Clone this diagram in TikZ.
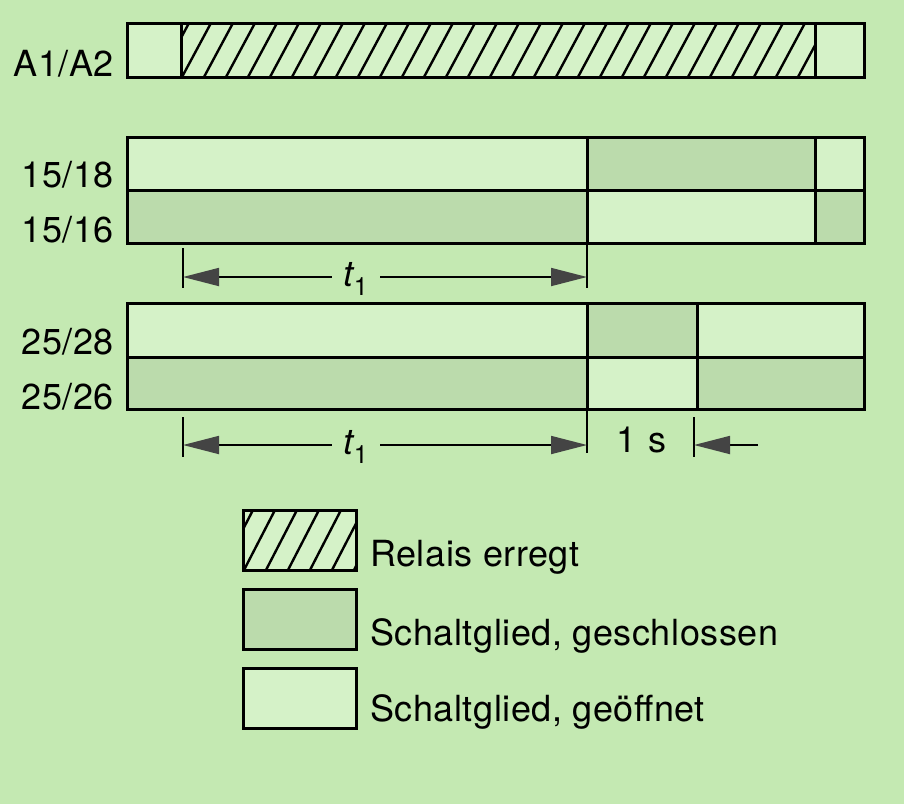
\documentclass[tikz,border=0pt]{standalone}
\usepackage{fontspec}
\setmainfont{TeX Gyre Heros}[LetterSpace=1.5]
\usepackage{tikz}
\usetikzlibrary{arrows.meta}
\definecolor{bgGreen}{RGB}{196,233,178}
\definecolor{openGreen}{RGB}{213,242,200}
\definecolor{closedGreen}{RGB}{187,219,172}
\definecolor{headGray}{RGB}{68,68,68}
\newcommand*{\xMin}{127}
\newcommand*{\xMax}{864}
\newcommand*{\xOn}{181}
\newcommand*{\xOff}{815}
\newcommand*{\xSw}{587}
\newcommand*{\xOne}{697}
\newcommand*{\lblfont}{\fontsize{36}{40}\selectfont}
\tikzset{
	bar/.style={line width=3pt,draw=black,line join=miter},
	hatchline/.style={line width=2.4pt,black},
	tickline/.style={line width=1.8pt,black},
	dimarrow/.style={line width=1.8pt,black,-{Triangle[length=36pt,width=18pt,color=headGray]}},
	lbl/.style={font=\lblfont,inner sep=0pt}
}
\begin{document}
\begin{tikzpicture}[x=1pt,y=-1pt]
	\fill[bgGreen] (0,0) rectangle (904,804);
	\useasboundingbox (0,0) rectangle (904,804);

	% coil A1/A2
	\fill[openGreen] (\xMin,23) rectangle (\xMax,77);
	\begin{scope}
		\clip (\xOn,23) rectangle (\xOff,77);
		\foreach \x in {160,182,...,830} {
			\draw[hatchline] (\x,77) -- ++(29,-54);
		}
	\end{scope}
	\draw[bar] (\xMin,23) rectangle (\xMax,77);
	\draw[bar] (\xOn,23) -- (\xOn,77) (\xOff,23) -- (\xOff,77);
	\node[lbl,anchor=base east] (a1a2) at (114,76) {A1/A2};

	% contact 15/18 - 15/16
	\fill[openGreen] (\xMin,137) rectangle (\xMax,243);
	\fill[closedGreen] (\xMin,190) rectangle (\xSw,243);
	\fill[closedGreen] (\xSw,137) rectangle (\xOff,190);
	\fill[closedGreen] (\xOff,190) rectangle (\xMax,243);
	\draw[bar] (\xMin,137) rectangle (\xMax,243);
	\draw[bar] (\xMin,190) -- (\xMax,190);
	\draw[bar] (\xSw,137) -- (\xSw,243) (\xOff,137) -- (\xOff,243);
	\node[lbl,anchor=base east] (c1518) at (114,187) {15/18};
	\node[lbl,anchor=base east] (c1516) at (114,242) {15/16};

	% time t1, upper
	\coordinate (dimA) at (183,277);
	\coordinate (dimB) at (\xSw,277);
	\draw[tickline] (183,248) -- (183,288) (\xSw,243) -- (\xSw,288);
	\node[lbl,anchor=base,inner xsep=12pt] (tA) at (356,286) {\itshape t\textsubscript{\upshape 1}};
	\draw[dimarrow] (tA.west |- dimA) -- (dimA);
	\draw[dimarrow] (tA.east |- dimB) -- (dimB);

	% contact 25/28 - 25/26
	\fill[openGreen] (\xMin,303) rectangle (\xMax,409);
	\fill[closedGreen] (\xMin,357) rectangle (\xSw,409);
	\fill[closedGreen] (\xSw,303) rectangle (\xOne,357);
	\fill[closedGreen] (\xOne,357) rectangle (\xMax,409);
	\draw[bar] (\xMin,303) rectangle (\xMax,409);
	\draw[bar] (\xMin,357) -- (\xMax,357);
	\draw[bar] (\xSw,303) -- (\xSw,409) (\xOne,303) -- (\xOne,409);
	\node[lbl,anchor=base east] (c2528) at (114,354) {25/28};
	\node[lbl,anchor=base east] (c2526) at (114,409) {25/26};

	% time t1 and 1 s, lower
	\coordinate (dimC) at (183,445);
	\coordinate (dimD) at (\xSw,445);
	\coordinate (dimE) at (694,445);
	\coordinate (dimF) at (758,445);
	\draw[tickline] (183,417) -- (183,457) (\xSw,409) -- (\xSw,453) (694,417) -- (694,457);
	\node[lbl,anchor=base,inner xsep=12pt] (tB) at (356,454) {\itshape t\textsubscript{\upshape 1}};
	\draw[dimarrow] (tB.west |- dimC) -- (dimC);
	\draw[dimarrow] (tB.east |- dimD) -- (dimD);
	\node[lbl,anchor=base] (oneS) at (641,452) {1\,\,s};
	\draw[dimarrow] (dimF) -- (dimE);

	% legend
	\fill[openGreen] (243,510) rectangle (356,570);
	\begin{scope}
		\clip (243,510) rectangle (356,570);
		\foreach \x in {200,222,...,360} {
			\draw[hatchline] (\x,570) -- ++(31,-60);
		}
	\end{scope}
	\draw[bar] (243,510) rectangle (356,570);
	\node[lbl,anchor=base west] (lgRelais) at (370,566) {Relais erregt};

	\fill[closedGreen] (243,589) rectangle (356,649);
	\draw[bar] (243,589) rectangle (356,649);
	\node[lbl,anchor=base west] (lgClosed) at (370,645) {Schaltglied, geschlossen};

	\fill[openGreen] (243,668) rectangle (356,728);
	\draw[bar] (243,668) rectangle (356,728);
	\node[lbl,anchor=base west] (lgOpen) at (370,721) {Schaltglied, geöffnet};
\end{tikzpicture}
\end{document}
